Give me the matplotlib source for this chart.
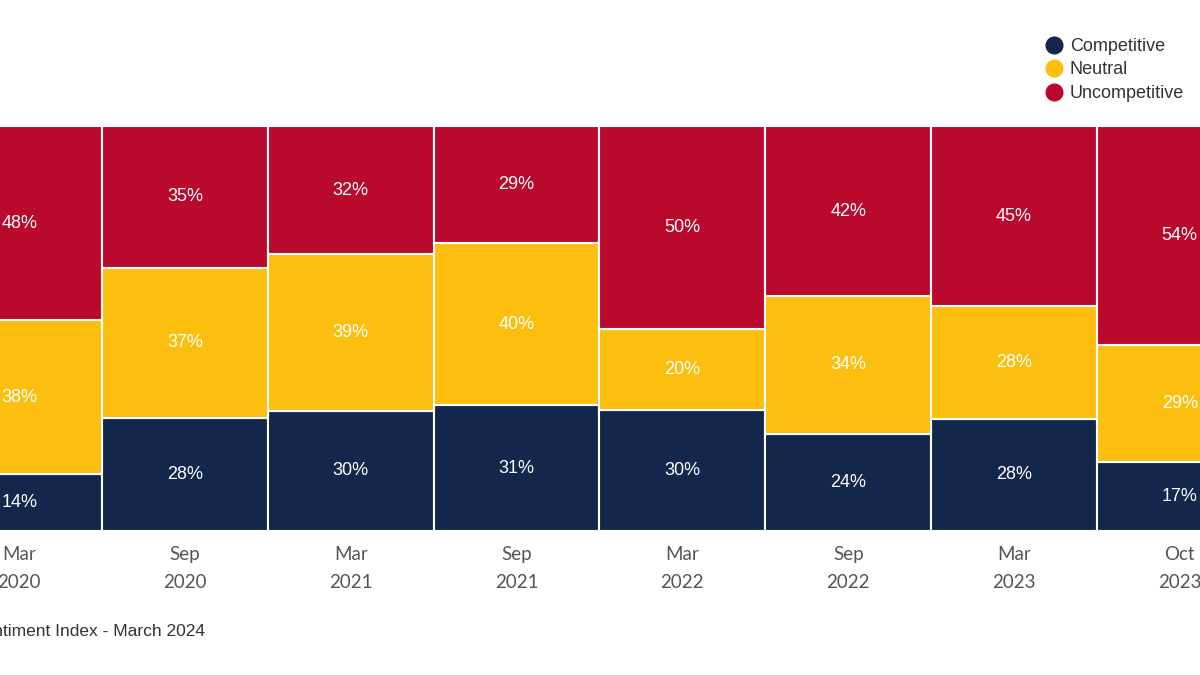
import numpy as np
import matplotlib
matplotlib.use("Agg")
import matplotlib.pyplot as plt
from matplotlib.lines import Line2D

periods = ["Mar\n2020", "Sep\n2020", "Mar\n2021", "Sep\n2021",
           "Mar\n2022", "Sep\n2022", "Mar\n2023", "Oct\n2023"]
competitive = [14, 28, 30, 31, 30, 24, 28, 17]
neutral = [38, 37, 39, 40, 20, 34, 28, 29]
uncompetitive = [48, 35, 32, 29, 50, 42, 45, 54]

NAVY = "#12274b"
YELLOW = "#fcbf10"
RED = "#b9092d"

fig = plt.figure(figsize=(12, 6.75), dpi=100)
# axes runs past the figure edges, like the cropped original
ax = fig.add_axes([-0.0531, 0.2133, 1.1053, 0.6])

comp = np.array(competitive, dtype=float)
neut = np.array(neutral, dtype=float)
unc = np.array(uncompetitive, dtype=float)
total = comp + neut + unc
# normalise so every column fills 100%
comp_n = comp / total * 100
neut_n = neut / total * 100
unc_n = unc / total * 100

x = np.arange(len(periods))
segments = [(comp_n, competitive, NAVY, "Competitive"),
            (neut_n, neutral, YELLOW, "Neutral"),
            (unc_n, uncompetitive, RED, "Uncompetitive")]
bottom = np.zeros(len(periods))
for heights, labels, color, name in segments:
    ax.bar(x, heights, width=1.0, bottom=bottom, color=color,
           edgecolor="white", linewidth=1.5, label=name)
    for xi, b, h, lab in zip(x, bottom, heights, labels):
        ax.text(xi, b + h / 2, f"{lab}%", ha="center", va="center",
                color="white", fontsize=13, family="Liberation Sans")
    bottom = bottom + heights

ax.set_xlim(-0.5, 7.5)
ax.set_ylim(0, 100)
ax.set_xticks(x)
ax.set_xticklabels(periods, family="Lato", fontsize=13.5, color="#555555",
                   linespacing=1.75)
ax.tick_params(axis="x", length=0, pad=11)
ax.set_yticks([])
for s in ax.spines.values():
    s.set_visible(False)

handles = [Line2D([0], [0], marker="o", linestyle="", markersize=12,
                  markerfacecolor=c, markeredgecolor=c)
           for c in (NAVY, YELLOW, RED)]
fig.legend(handles, ["Competitive", "Neutral", "Uncompetitive"],
           loc="upper left", bbox_to_anchor=(0.857, 0.968), frameon=False,
           prop={"family": "Liberation Sans", "size": 13},
           labelcolor="#333333", handletextpad=0.4, labelspacing=0.36,
           handlelength=1.0)

fig.text(205 / 1200, 1 - 632 / 675, "Source: Sentiment Index - March 2024",
         ha="right", va="center", fontsize=12.5, color="#333333",
         family="Liberation Sans")

fig.savefig("out.png", dpi=100)
